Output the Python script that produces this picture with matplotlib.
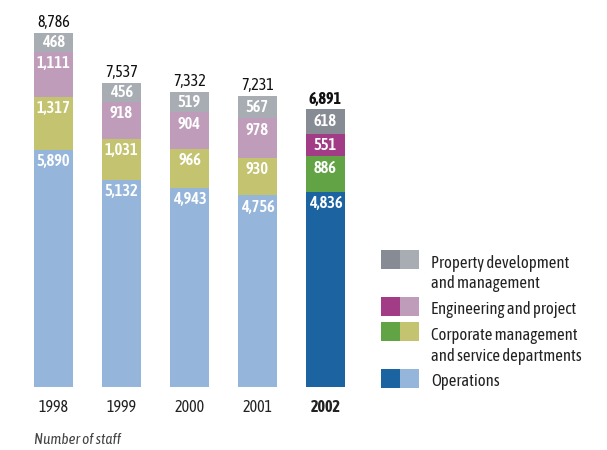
import matplotlib
matplotlib.use("Agg")
import matplotlib.pyplot as plt
from matplotlib.patches import Rectangle

plt.rcParams["font.family"] = ["Asap Condensed", "DejaVu Sans"]

years = ["1998", "1999", "2000", "2001", "2002"]
operations = [5890, 5132, 4943, 4756, 4836]
corporate = [1317, 1031, 966, 930, 886]
engineering = [1111, 918, 904, 978, 551]
property_dev = [468, 456, 519, 567, 618]
totals = [8786, 7537, 7332, 7231, 6891]

series = [operations, corporate, engineering, property_dev]
light = ["#95b5da", "#c4c36f", "#c09cbb", "#a8adb3"]
dark = ["#1c63a2", "#62a346", "#a23c87", "#868b94"]
legend_labels = [
    "Property development\nand management",
    "Engineering and project",
    "Corporate management\nand service departments",
    "Operations",
]

W, H = 607, 450
fig = plt.figure(figsize=(W / 100, H / 100), dpi=100)
base_px = 387          # bar baseline, px from top
px_per_unit = 354 / 8786
ax = fig.add_axes([0, (H - base_px) / H, 1, base_px / H])
ax.set_xlim(-53.5 / 68, (W - 53.5) / 68)
ax.set_ylim(0, base_px / px_per_unit)
ax.axis("off")

width = 39 / 68
offset = 290
for i, year in enumerate(years):
    bottom = 0
    last = i == len(years) - 1
    for k, vals in enumerate(series):
        v = vals[i]
        color = dark[k] if last else light[k]
        ax.bar(i, v, width=width, bottom=bottom, color=color, linewidth=0)
        top = bottom + v
        ly = max(bottom + v / 2, top - offset)
        ax.text(i, ly, f"{v:,}", ha="center", va="center", color="white",
                fontsize=11.8, fontweight=600)
        bottom = top
    ax.text(i, totals[i] + 50, f"{totals[i]:,}", ha="center", va="bottom",
            color="#111111", fontsize=11.5, fontweight="bold" if last else "normal")
    ax.text(i, -20 / px_per_unit, year, ha="center", va="center", color="#222222",
            fontsize=11.5, fontweight="bold" if last else "normal")

fig.text(34 / W, 1 - 440 / H, "Number of staff", ha="left", va="center",
         fontsize=11, style="italic", color="#444444")

# legend: two-tone swatches
rows = [(250, 273.5), (297, 310), (322, 346), (369, 382)]
for k, (sy, ty) in enumerate(rows):
    src = 3 - k
    for j, col in enumerate([dark[src], light[src]]):
        fig.patches.append(Rectangle(((381 + 19 * j) / W, 1 - (sy + 19) / H), 19 / W, 19 / H,
                                     transform=fig.transFigure, color=col, linewidth=0))
    fig.text(431 / W, 1 - ty / H, legend_labels[k], ha="left", va="center",
             fontsize=12, color="#222222", linespacing=1.3)

fig.savefig("out.png", dpi=100)
